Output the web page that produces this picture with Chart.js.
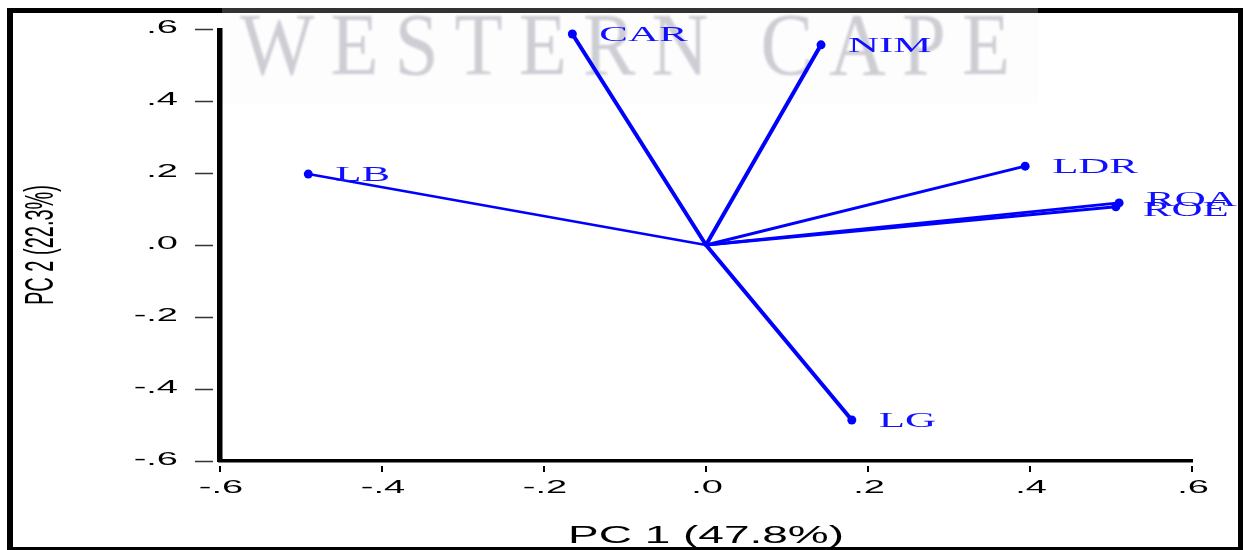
<!DOCTYPE html>
<html>
<head>
<meta charset="utf-8">
<script src="https://cdn.jsdelivr.net/npm/chart.js@4.4.1/dist/chart.umd.min.js"></script>
<style>
  html, body { margin: 0; padding: 0; background: #fff; }
  #wrap { width: 1243px; height: 550px; position: relative; }
</style>
</head>
<body>
<div id="wrap"><canvas id="c"></canvas></div>
<script>
// loadings
const variables = ['CAR', 'NIM', 'LDR', 'ROA', 'ROE', 'LB', 'LG']
const pc1 = [-0.165, 0.142, 0.394, 0.510, 0.506, -0.491, 0.180]
const pc2 = [0.586, 0.556, 0.219, 0.117, 0.106, 0.197, -0.486]
const lineWidths = [4, 4, 3, 3, 3, 2.5, 4]

const tickValues = [-0.6, -0.4, -0.2, 0.0, 0.2, 0.4, 0.6]
const tickLabels = ['-.6', '-.4', '-.2', '.0', '.2', '.4', '.6']
const xTitle = 'PC 1 (47.8%)'
const yTitle = 'PC 2 (22.3%)'

const BLUE = '#0000ff'

// text in the picture is stretched about 2x horizontally
function wideText(ctx, text, x, y, sx, align) {
  ctx.save()
  ctx.translate(x, y)
  ctx.scale(sx, 1)
  ctx.textAlign = align
  ctx.textBaseline = 'middle'
  ctx.fillText(text, 0, 0)
  ctx.restore()
}

const watermark = {
  id: 'watermark',
  beforeDatasetsDraw(chart) {
    const ctx = chart.ctx
    ctx.save()
    ctx.fillStyle = '#fdfdfd'
    ctx.fillRect(222, 13, 816, 90)
    ctx.filter = 'blur(1.3px)'
    ctx.font = '88px "Liberation Serif"'
    ctx.letterSpacing = '18px'
    ctx.fillStyle = '#cdcdd4'
    ctx.textBaseline = 'alphabetic'
    const txt = 'WESTERN CAPE'
    const w = ctx.measureText(txt).width - 18
    ctx.translate(240, 74)
    ctx.scale(770 / w, 1)
    ctx.fillText(txt, 0, 0)
    ctx.restore()
  }
}

const decorations = {
  id: 'decorations',
  afterDatasetsDraw(chart) {
    const ctx = chart.ctx

    // variable labels next to arrow heads
    ctx.save()
    ctx.fillStyle = '#1010ff'
    ctx.font = '22px "Liberation Serif"'
    const dy = { ROA: -3, ROE: 3 }
    variables.forEach((name, i) => {
      const pt = chart.getDatasetMeta(i).data[1]
      wideText(ctx, name, pt.x + 27, pt.y + (dy[name] || 1), 1.95, 'left')
    })
    ctx.restore()
  },
  afterDraw(chart) {
    const ctx = chart.ctx
    const xs = chart.scales.x
    const ys = chart.scales.y
    const area = chart.chartArea
    ctx.save()

    // axes
    ctx.fillStyle = '#000'
    ctx.fillRect(area.left - 3, area.top - 1, 5.5, area.bottom - area.top + 2)
    ctx.fillRect(area.left - 2, area.bottom - 2, area.right - area.left + 3, 3.5)

    // tick marks
    ctx.strokeStyle = '#333'
    ctx.lineWidth = 1.5
    tickValues.forEach(v => {
      const py = Math.round(ys.getPixelForValue(v)) + 0.5
      ctx.beginPath()
      ctx.moveTo(195, py)
      ctx.lineTo(213, py)
      ctx.stroke()
    })
    ctx.strokeStyle = '#000'
    ctx.lineWidth = 2
    tickValues.forEach(v => {
      const px = Math.round(xs.getPixelForValue(v))
      ctx.beginPath()
      ctx.moveTo(px, area.bottom + 5)
      ctx.lineTo(px, area.bottom + 11)
      ctx.stroke()
    })

    // tick labels
    ctx.fillStyle = '#000'
    ctx.font = '19px "Liberation Sans"'
    tickValues.forEach((v, i) => {
      wideText(ctx, tickLabels[i], 178, ys.getPixelForValue(v) - 1, 2, 'right')
      wideText(ctx, tickLabels[i], xs.getPixelForValue(v) + 1, area.bottom + 27, 2, 'center')
    })

    // axis titles
    ctx.font = '23px "Liberation Sans"'
    wideText(ctx, xTitle, xs.getPixelForValue(0), 537, 2, 'center')

    ctx.save()
    ctx.translate(42, ys.getPixelForValue(0))
    ctx.rotate(-Math.PI / 2)
    ctx.scale(1, 2)
    ctx.font = '20px "Liberation Sans"'
    ctx.textAlign = 'center'
    ctx.textBaseline = 'middle'
    ctx.fillText(yTitle, 0, 0)
    ctx.restore()

    // outer frame
    ctx.fillStyle = '#000'
    ctx.fillRect(7, 8, 6, 542)
    ctx.fillRect(7, 8, 1236, 5)
    ctx.fillRect(1238, 8, 5, 542)
    ctx.fillRect(7, 547, 1236, 3)
    ctx.fillStyle = '#333'
    ctx.fillRect(222, 8, 816, 5)
    ctx.restore()
  }
}

const datasets = variables.map((name, i) => ({
  label: name,
  data: [{ x: 0, y: 0 }, { x: pc1[i], y: pc2[i] }],
  showLine: true,
  borderColor: BLUE,
  backgroundColor: BLUE,
  borderWidth: lineWidths[i],
  borderCapStyle: 'round',
  pointRadius: [0, 4.5],
  pointBorderWidth: 0,
  clip: false
}))

new Chart(document.getElementById('c'), {
  type: 'scatter',
  data: { datasets },
  options: {
    responsive: true,
    maintainAspectRatio: false,
    animation: false,
    devicePixelRatio: 1,
    layout: { padding: { left: 220, right: 51, top: 29, bottom: 89 } },
    scales: {
      x: { type: 'linear', min: -0.6, max: 0.6, display: false },
      y: { type: 'linear', min: -0.6, max: 0.6, display: false }
    },
    plugins: {
      legend: { display: false },
      tooltip: { enabled: false }
    }
  },
  plugins: [watermark, decorations]
})
</script>
</body>
</html>
